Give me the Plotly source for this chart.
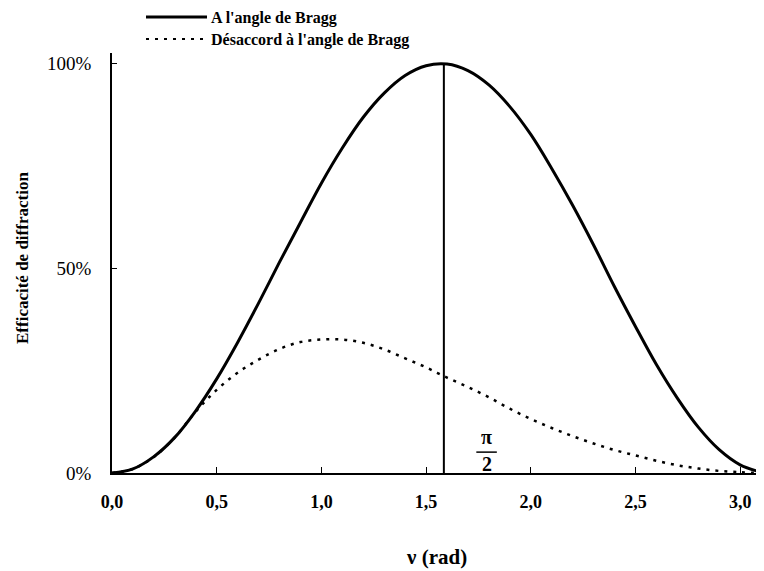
import plotly.graph_objects as go

# ---- data ----
nu = [0.0, 0.1, 0.2, 0.3, 0.4, 0.5, 0.6, 0.7, 0.8, 0.9, 1.0, 1.1, 1.2, 1.3, 1.4, 1.5,
      1.6, 1.7, 1.8, 1.9, 2.0, 2.1, 2.2, 2.3, 2.4, 2.5, 2.6, 2.7, 2.8, 2.9, 3.0, 3.1]
bragg = [0.0, 0.010, 0.040, 0.087, 0.152, 0.230, 0.319, 0.415, 0.515, 0.612, 0.708,
         0.794, 0.869, 0.928, 0.971, 0.995, 0.999, 0.983, 0.948, 0.895, 0.827, 0.744,
         0.654, 0.557, 0.455, 0.358, 0.265, 0.183, 0.112, 0.057, 0.020, 0.002]
desaccord = [0.0, 0.010, 0.039, 0.087, 0.150, 0.203, 0.245, 0.277, 0.303, 0.320, 0.326,
             0.326, 0.318, 0.302, 0.280, 0.258, 0.233, 0.210, 0.185, 0.157, 0.132, 0.110,
             0.090, 0.072, 0.056, 0.043, 0.030, 0.019, 0.011, 0.005, 0.002, 0.0]
pi_half_x = [1.585, 1.585]
pi_half_y = [0.0, 1.0]

x_ticks = [0.0, 0.5, 1.0, 1.5, 2.0, 2.5, 3.0]
x_tick_labels = ["0,0", "0,5", "1,0", "1,5", "2,0", "2,5", "3,0"]
y_ticks = [0.0, 0.5, 1.0]
y_tick_labels = ["0%", "50%", "100%"]

SERIF = "Liberation Serif"

fig = go.Figure()
fig.add_trace(go.Scatter(x=nu, y=bragg, mode="lines", name="A l'angle de Bragg",
                         line=dict(color="black", width=3, shape="spline"),
                         showlegend=False))
fig.add_trace(go.Scatter(x=nu, y=desaccord, mode="lines",
                         name="Désaccord à l'angle de Bragg",
                         line=dict(color="black", width=2.5, dash="3px,6px", shape="spline"),
                         showlegend=False))
fig.add_trace(go.Scatter(x=pi_half_x, y=pi_half_y, mode="lines",
                         line=dict(color="black", width=2), showlegend=False))

# helpers: screen pixel -> paper coords (plot area: left 112, bottom 473, 652 x 420)
W = 652.0
H = 420.0
def px(xp):
    return (xp - 112) / W
def py(yp):
    return (473 - yp) / H

# manual legend
fig.add_shape(type="line", xref="paper", yref="paper", x0=px(146), x1=px(207),
              y0=py(17), y1=py(17), line=dict(color="black", width=3))
fig.add_shape(type="line", xref="paper", yref="paper", x0=px(146), x1=px(206),
              y0=py(39), y1=py(39), line=dict(color="black", width=2, dash="3px,6px"))
fig.add_annotation(xref="paper", yref="paper", x=px(209), y=py(18), xanchor="left",
                   yanchor="middle", showarrow=False, text="<b>A l'angle de Bragg</b>",
                   font=dict(family=SERIF, size=16, color="black"))
fig.add_annotation(xref="paper", yref="paper", x=px(209), y=py(40), xanchor="left",
                   yanchor="middle", showarrow=False, text="<b>Désaccord à l'angle de Bragg</b>",
                   font=dict(family=SERIF, size=16, color="black"))

# axis titles
fig.add_annotation(xref="paper", yref="paper", x=px(436), y=py(557), xanchor="center",
                   yanchor="middle", showarrow=False, text="<b>ν (rad)</b>",
                   font=dict(family=SERIF, size=21, color="black"))
fig.add_annotation(xref="paper", yref="paper", x=px(22), y=py(258), xanchor="center",
                   yanchor="middle", showarrow=False, textangle=-90,
                   text="<b>Efficacité de diffraction</b>",
                   font=dict(family=SERIF, size=17, color="black"))

# pi/2 label
fig.add_annotation(x=1.789, y=0.089, showarrow=False, text="<b>π</b>",
                   font=dict(family=SERIF, size=20, color="black"))
fig.add_shape(type="line", x0=1.74, x1=1.838, y0=0.051, y1=0.051,
              line=dict(color="black", width=1.5))
fig.add_annotation(x=1.789, y=0.022, showarrow=False, text="<b>2</b>",
                   font=dict(family=SERIF, size=20, color="black"))

fig.update_layout(
    width=756, height=563,
    margin=dict(l=104, r=0, t=45, b=98),
    paper_bgcolor="white", plot_bgcolor="white",
    font=dict(family=SERIF, size=16, color="black"),
    xaxis=dict(range=[0, 3.114], tickvals=x_ticks,
               ticktext=[f"<b>{t}</b>" for t in x_tick_labels],
               ticks="inside", ticklen=6, tickwidth=1, tickcolor="black",
               showline=True, linecolor="black", linewidth=2, showgrid=False, zeroline=False,
               ticklabelstandoff=11, tickfont=dict(family=SERIF, size=18)),
    yaxis=dict(range=[0, 1.026], tickvals=y_ticks, ticktext=y_tick_labels,
               ticks="inside", ticklen=5, tickwidth=1, tickcolor="black",
               showline=True, linecolor="black", linewidth=1.5, showgrid=False, zeroline=False,
               ticklabelstandoff=15, tickfont=dict(family=SERIF, size=19)),
)

fig.write_html("out.html")
